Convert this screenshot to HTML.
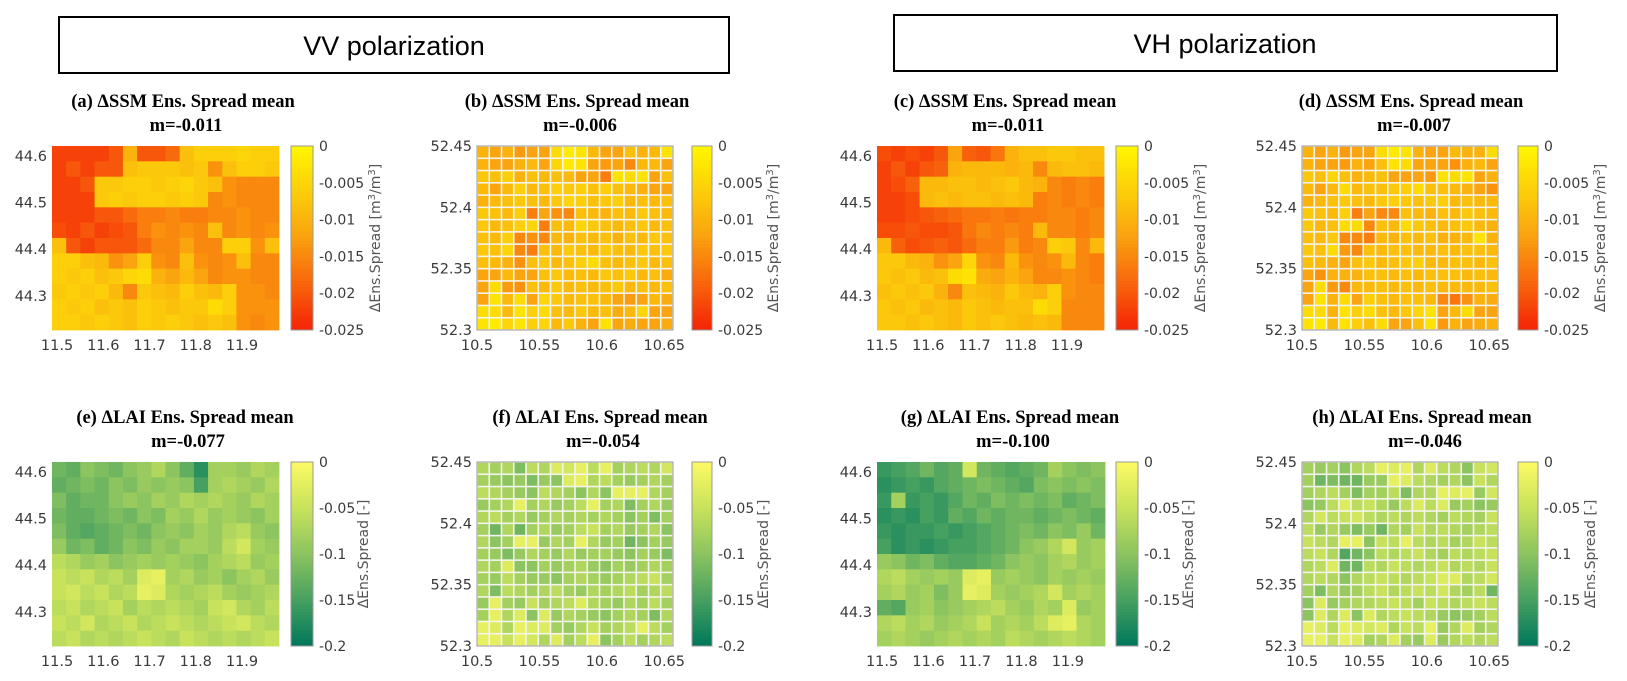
<!DOCTYPE html>
<html><head><meta charset="utf-8"><style>
html,body{margin:0;padding:0;background:#fff}
svg{display:block}
.t{font-family:"Liberation Serif",serif;font-weight:bold;font-size:18.5px;fill:#000}
.k{font-family:"DejaVu Sans","Liberation Sans",sans-serif;font-size:14.5px;fill:#3a3a3a}
.c{font-family:"DejaVu Sans","Liberation Sans",sans-serif;font-size:14px;fill:#3a3a3a}
.l{font-family:"DejaVu Sans","Liberation Sans",sans-serif;font-size:14px;fill:#555}
.h{font-family:"Liberation Sans",sans-serif;font-size:27px;fill:#000}
</style></head><body>
<svg id="fig" width="1627" height="681" xmlns="http://www.w3.org/2000/svg">
<rect x="0" y="0" width="1627" height="681" fill="#fff"/>
<rect x="59" y="17" width="670" height="56" fill="none" stroke="#000" stroke-width="2"/>
<text class="h" x="394" y="55" text-anchor="middle">VV polarization</text>
<rect x="894" y="15" width="663" height="56" fill="none" stroke="#000" stroke-width="2"/>
<text class="h" x="1225" y="53" text-anchor="middle">VH polarization</text>
</svg>
<script>
// ---- data (SSM in 1e-3 m3/m3, LAI in 1e-2) ----
const bigXTicks=[11.5,11.6,11.7,11.8,11.9];
const bigYTicks=[44.6,44.5,44.4,44.3];
const smallXTicks=[10.5,10.55,10.6,10.65];
const smallYTicks=[52.45,52.4,52.35,52.3];
const ssmCbTicks=[0,-0.005,-0.01,-0.015,-0.02,-0.025];
const laiCbTicks=[0,-0.05,-0.1,-0.15,-0.2];
const titles=["(a)  \u0394SSM Ens. Spread mean","(b) \u0394SSM Ens. Spread mean","(c) \u0394SSM Ens. Spread mean","(d) \u0394SSM Ens. Spread mean","(e) \u0394LAI Ens. Spread mean","(f) \u0394LAI Ens. Spread mean","(g) \u0394LAI Ens. Spread mean","(h) \u0394LAI Ens. Spread mean"];
const means=["m=-0.011","m=-0.006","m=-0.011","m=-0.007","m=-0.077","m=-0.054","m=-0.100","m=-0.046"];

const valuesA=[
[-22,-22,-22,-22,-20,-10,-20,-20,-18,-8,-6,-6,-6,-5,-6,-6],
[-22,-20,-22,-20,-20,-8,-7,-7,-7,-8,-7,-14,-8,-6,-6,-7],
[-22,-22,-20,-7,-7,-6,-6,-7,-6,-5,-7,-8,-14,-15,-15,-15],
[-22,-22,-22,-7,-6,-7,-6,-6,-7,-6,-7,-15,-14,-15,-15,-15],
[-22,-22,-22,-20,-20,-18,-16,-16,-15,-16,-16,-15,-15,-14,-15,-15],
[-21,-22,-20,-22,-21,-20,-16,-14,-15,-14,-15,-8,-15,-14,-15,-14],
[-8,-20,-22,-20,-20,-20,-18,-15,-15,-12,-15,-15,-6,-6,-14,-8],
[-6,-6,-8,-9,-14,-12,-6,-14,-15,-8,-14,-15,-14,-8,-15,-15],
[-6,-7,-6,-8,-7,-5,-4,-10,-12,-9,-12,-15,-14,-14,-15,-15],
[-7,-6,-7,-6,-9,-15,-7,-8,-9,-6,-8,-9,-6,-14,-14,-15],
[-6,-7,-6,-8,-7,-8,-6,-7,-8,-7,-7,-4,-6,-14,-14,-14],
[-6,-6,-7,-6,-7,-8,-6,-7,-6,-7,-8,-7,-8,-14,-15,-14]];
const valuesC=[
[-21,-22,-21,-22,-20,-12,-19,-20,-17,-10,-8,-8,-7,-7,-8,-8],
[-22,-20,-22,-20,-19,-10,-9,-9,-9,-10,-9,-15,-9,-8,-8,-9],
[-22,-21,-19,-9,-9,-8,-8,-9,-8,-7,-9,-10,-15,-16,-15,-16],
[-22,-22,-21,-9,-8,-9,-8,-8,-9,-8,-9,-16,-15,-16,-15,-16],
[-22,-22,-21,-20,-19,-18,-17,-17,-16,-17,-16,-16,-15,-15,-16,-15],
[-21,-21,-20,-21,-21,-20,-17,-15,-16,-15,-16,-9,-15,-15,-16,-15],
[-9,-19,-21,-20,-19,-20,-18,-16,-16,-13,-16,-15,-6,-7,-15,-9],
[-7,-7,-9,-10,-14,-12,-5,-14,-15,-9,-14,-15,-14,-9,-15,-16],
[-7,-8,-7,-9,-8,-4,-3,-11,-12,-10,-12,-15,-15,-14,-15,-16],
[-8,-7,-8,-7,-10,-15,-8,-9,-10,-7,-9,-10,-6,-14,-15,-15],
[-7,-8,-7,-9,-8,-9,-7,-8,-9,-8,-8,-4,-6,-15,-15,-15],
[-7,-7,-8,-7,-8,-9,-7,-8,-7,-8,-9,-8,-9,-15,-15,-15]];
const valuesB=[
[-10,-12,-10,-13,-12,-12,-4,-2,-3,-9,-12,-12,-8,-10,-9,-3],
[-10,-12,-12,-10,-9,-12,-5,-2,-3,-12,-13,-12,-15,-9,-9,-12],
[-7,-8,-6,-10,-8,-9,-8,-9,-12,-12,-16,-3,-4,-3,-12,-8],
[-9,-12,-9,-6,-9,-8,-6,-7,-6,-8,-6,-8,-9,-10,-12,-12],
[-10,-9,-8,-7,-8,-9,-7,-5,-6,-8,-7,-6,-9,-8,-9,-8],
[-7,-8,-9,-6,-16,-12,-14,-15,-8,-9,-10,-8,-9,-7,-8,-9],
[-7,-9,-8,-6,-5,-16,-8,-9,-5,-7,-8,-9,-8,-7,-9,-8],
[-8,-9,-6,-15,-14,-15,-9,-10,-8,-9,-8,-10,-8,-9,-7,-8],
[-7,-8,-5,-15,-16,-8,-9,-7,-8,-9,-7,-8,-9,-7,-8,-7],
[-8,-9,-10,-14,-8,-7,-9,-8,-6,-4,-8,-9,-8,-7,-9,-8],
[-12,-12,-9,-12,-12,-8,-7,-9,-8,-9,-7,-8,-7,-9,-8,-11],
[-12,-4,-13,-14,-8,-9,-7,-9,-8,-9,-8,-7,-9,-8,-9,-8],
[-12,-3,-9,-4,-12,-5,-7,-9,-8,-8,-9,-12,-13,-12,-9,-11],
[-4,-4,-9,-3,-6,-4,-8,-9,-7,-9,-8,-11,-9,-5,-12,-12],
[-3,-2,-5,-3,-6,-5,-9,-7,-10,-12,-3,-12,-11,-12,-12,-11]];
const valuesD=[
[-10,-12,-10,-13,-12,-12,-4,-2,-3,-10,-12,-12,-9,-10,-10,-4],
[-10,-12,-12,-13,-10,-12,-8,-3,-4,-12,-12,-12,-14,-10,-9,-12],
[-7,-8,-5,-8,-10,-9,-8,-12,-12,-12,-13,-3,-4,-3,-12,-10],
[-9,-12,-9,-4,-9,-8,-8,-7,-6,-4,-8,-8,-9,-10,-12,-14],
[-10,-9,-8,-7,-8,-9,-7,-6,-7,-8,-7,-6,-9,-8,-9,-9],
[-7,-8,-9,-6,-16,-12,-15,-15,-8,-9,-10,-8,-9,-7,-8,-9],
[-7,-9,-8,-4,-4,-15,-8,-9,-4,-7,-8,-9,-8,-7,-9,-10],
[-8,-9,-7,-15,-15,-16,-9,-10,-8,-9,-8,-10,-10,-9,-3,-10],
[-7,-8,-4,-13,-15,-8,-9,-8,-8,-9,-9,-8,-9,-8,-8,-9],
[-8,-9,-10,-12,-8,-7,-9,-8,-7,-6,-9,-9,-8,-8,-9,-8],
[-12,-14,-10,-10,-10,-8,-8,-9,-8,-9,-8,-8,-8,-9,-8,-9],
[-12,-4,-13,-15,-9,-9,-8,-9,-8,-9,-8,-9,-9,-9,-9,-8],
[-12,-3,-10,-4,-12,-6,-8,-9,-8,-8,-9,-15,-17,-14,-10,-11],
[-4,-4,-10,-3,-6,-4,-8,-9,-7,-5,-3,-12,-9,-4,-12,-12],
[-3,-2,-9,-3,-6,-8,-4,-12,-12,-8,-3,-13,-10,-12,-11,-10]];
const valuesE=[
[-12,-13,-10,-11,-12,-10,-9,-7,-10,-13,-17,-8,-8,-9,-7,-8],
[-13,-12,-11,-12,-10,-11,-9,-10,-9,-10,-15,-8,-7,-8,-9,-7],
[-11,-13,-12,-12,-10,-9,-10,-8,-9,-7,-8,-7,-8,-9,-7,-8],
[-12,-13,-13,-12,-11,-12,-10,-11,-8,-9,-7,-9,-8,-9,-10,-8],
[-11,-13,-14,-13,-12,-11,-12,-10,-9,-10,-8,-9,-7,-6,-9,-10],
[-9,-12,-11,-13,-12,-10,-11,-9,-10,-8,-8,-9,-6,-4,-8,-9],
[-6,-7,-9,-8,-10,-9,-8,-9,-8,-9,-10,-8,-7,-6,-9,-8],
[-5,-6,-5,-7,-6,-8,-3,-2,-8,-7,-9,-8,-10,-8,-7,-9],
[-5,-4,-6,-5,-7,-6,-2,-3,-7,-8,-7,-6,-8,-9,-8,-7],
[-6,-5,-7,-6,-5,-8,-6,-7,-6,-7,-8,-5,-4,-7,-8,-6],
[-5,-6,-4,-7,-6,-5,-7,-6,-5,-6,-7,-6,-5,-4,-6,-7],
[-6,-5,-7,-6,-7,-6,-5,-6,-7,-5,-6,-7,-6,-7,-6,-5]];
const valuesG=[
[-16,-15,-14,-12,-14,-13,-4,-12,-13,-14,-13,-12,-8,-10,-11,-10],
[-17,-16,-15,-16,-14,-13,-12,-11,-12,-13,-14,-11,-10,-11,-10,-11],
[-16,-8,-16,-15,-16,-14,-12,-13,-11,-12,-11,-12,-11,-13,-12,-11],
[-17,-16,-17,-15,-16,-13,-14,-12,-13,-12,-12,-13,-12,-11,-12,-13],
[-16,-17,-16,-16,-15,-16,-15,-14,-13,-12,-11,-12,-10,-11,-9,-12],
[-15,-17,-16,-17,-16,-15,-15,-14,-13,-12,-10,-9,-7,-4,-9,-8],
[-9,-10,-12,-11,-13,-14,-14,-13,-12,-10,-9,-10,-8,-7,-9,-8],
[-7,-6,-8,-9,-8,-9,-3,-2,-9,-8,-9,-10,-8,-9,-8,-9],
[-8,-7,-9,-8,-11,-9,-2,-3,-8,-9,-8,-7,-4,-8,-7,-8],
[-13,-14,-9,-8,-10,-9,-8,-7,-6,-8,-9,-7,-8,-3,-9,-8],
[-7,-6,-8,-7,-9,-8,-7,-5,-8,-7,-8,-6,-3,-2,-7,-8],
[-8,-7,-8,-9,-8,-7,-8,-7,-8,-6,-7,-8,-7,-6,-7,-8]];
const valuesF=[
[-7,-8,-7,-11,-6,-7,-3,-4,-2,-6,-2,-8,-7,-6,-7,-4],
[-8,-9,-10,-9,-11,-9,-10,-3,-2,-7,-6,-8,-9,-8,-7,-8],
[-6,-7,-8,-9,-10,-6,-7,-8,-10,-7,-10,-2,-2,-2,-7,-8],
[-9,-8,-7,-2,-8,-7,-9,-8,-6,-2,-8,-7,-11,-8,-7,-9],
[-7,-6,-8,-7,-9,-8,-7,-8,-7,-8,-7,-8,-10,-8,-11,-8],
[-8,-12,-7,-12,-8,-7,-9,-8,-6,-5,-8,-7,-9,-8,-7,-10],
[-7,-10,-8,-2,-2,-9,-7,-8,-2,-7,-9,-8,-12,-10,-8,-9],
[-8,-9,-11,-9,-7,-8,-9,-7,-9,-8,-8,-9,-10,-8,-9,-11],
[-7,-8,-3,-10,-10,-8,-9,-8,-7,-9,-10,-8,-9,-8,-7,-8],
[-8,-9,-6,-8,-9,-9,-10,-8,-7,-8,-9,-8,-7,-6,-5,-8],
[-7,-11,-6,-7,-8,-7,-6,-8,-9,-7,-8,-7,-6,-8,-7,-6],
[-9,-2,-8,-9,-5,-8,-7,-6,-3,-7,-8,-9,-7,-8,-6,-8],
[-8,-2,-7,-3,-10,-3,-9,-7,-8,-9,-10,-8,-7,-8,-11,-7],
[-2,-3,-7,-2,-3,-3,-8,-9,-7,-5,-8,-7,-6,-2,-6,-8],
[-2,-2,-5,-2,-4,-7,-3,-8,-6,-2,-10,-8,-6,-8,-7,-6]];
const valuesH=[
[-8,-9,-8,-10,-7,-6,-2,-3,-2,-7,-3,-6,-7,-10,-5,-4],
[-8,-12,-11,-12,-12,-9,-9,-2,-3,-6,-7,-8,-7,-10,-5,-7],
[-8,-7,-6,-8,-11,-8,-8,-6,-11,-7,-7,-2,-3,-2,-9,-4],
[-10,-9,-6,-3,-6,-5,-7,-9,-6,-3,-6,-3,-9,-8,-10,-9],
[-7,-4,-6,-5,-4,-6,-7,-6,-7,-6,-7,-8,-6,-7,-8,-5],
[-6,-9,-7,-9,-11,-9,-12,-7,-8,-5,-7,-6,-7,-8,-7,-6],
[-5,-6,-7,-2,-2,-10,-5,-6,-2,-6,-7,-6,-8,-7,-5,-6],
[-6,-5,-7,-14,-12,-10,-6,-7,-6,-5,-7,-8,-6,-7,-6,-5],
[-7,-6,-3,-12,-12,-6,-7,-5,-6,-7,-6,-5,-7,-6,-7,-5],
[-7,-6,-7,-10,-7,-6,-5,-6,-7,-6,-5,-3,-3,-7,-6,-4],
[-8,-11,-7,-9,-8,-6,-5,-7,-6,-5,-6,-4,-7,-8,-6,-12],
[-10,-3,-9,-8,-7,-7,-6,-5,-6,-8,-5,-6,-7,-6,-5,-6],
[-10,-3,-7,-3,-10,-3,-7,-6,-5,-6,-7,-9,-10,-9,-8,-6],
[-2,-3,-6,-2,-3,-4,-3,-7,-5,-6,-2,-9,-7,-3,-8,-7],
[-2,-2,-5,-2,-3,-8,-7,-3,-8,-9,-3,-9,-7,-6,-7,-6]];

// ---- rendering ----
const NS="http://www.w3.org/2000/svg";
const svg=document.getElementById('fig');
function mk(tag,attrs,parent){const e=document.createElementNS(NS,tag);for(const k in attrs)e.setAttribute(k,attrs[k]);(parent||svg).appendChild(e);return e;}
function lerp(a,b,t){return a.map((v,i)=>Math.round(v+(b[i]-v)*t));}
function cmap(stops,t){t=Math.max(0,Math.min(1,t));const n=stops.length-1;const i=Math.min(n-1,Math.floor(t*n));const c=lerp(stops[i],stops[i+1],t*n-i);return `rgb(${c[0]},${c[1]},${c[2]})`;}
const ssmStops=[[255,247,0],[252,205,10],[250,160,15],[248,100,12],[245,35,5]];
const laiStops=[[252,250,100],[200,226,92],[140,196,96],[70,160,96],[0,120,92]];

const panels=[
 {id:'a',vals:valuesA,scale:0.001,vmin:-0.025,x0:52,x1:279,y0:146,y1:330,cb:291,cbw:22,lbx:380,big:true,tx:183,var:'ssm'},
 {id:'b',vals:valuesB,scale:0.001,vmin:-0.025,x0:477,x1:673,y0:146,y1:330,cb:692,cbw:20,lbx:778,big:false,tx:577,var:'ssm'},
 {id:'c',vals:valuesC,scale:0.001,vmin:-0.025,x0:877,x1:1104,y0:146,y1:330,cb:1116,cbw:22,lbx:1205,big:true,tx:1005,var:'ssm'},
 {id:'d',vals:valuesD,scale:0.001,vmin:-0.025,x0:1302,x1:1498,y0:146,y1:330,cb:1518,cbw:20,lbx:1605,big:false,tx:1411,var:'ssm'},
 {id:'e',vals:valuesE,scale:0.01,vmin:-0.2,x0:52,x1:279,y0:462,y1:646,cb:291,cbw:22,lbx:368,big:true,tx:185,var:'lai'},
 {id:'f',vals:valuesF,scale:0.01,vmin:-0.2,x0:477,x1:673,y0:462,y1:646,cb:692,cbw:20,lbx:768,big:false,tx:600,var:'lai'},
 {id:'g',vals:valuesG,scale:0.01,vmin:-0.2,x0:877,x1:1105,y0:462,y1:646,cb:1116,cbw:22,lbx:1193,big:true,tx:1010,var:'lai'},
 {id:'h',vals:valuesH,scale:0.01,vmin:-0.2,x0:1302,x1:1498,y0:462,y1:646,cb:1518,cbw:20,lbx:1595,big:false,tx:1422,var:'lai'}];

panels.forEach((p,pi)=>{
 const g=mk('g',{});
 
 
 const stops=p.var==='ssm'?ssmStops:laiStops;
 const xd=p.big?[11.489,11.980]:[10.5,10.657];
 const yd=p.big?[44.621,44.227]:[52.45,52.30];
 const xs=v=>p.x0+(v-xd[0])/(xd[1]-xd[0])*(p.x1-p.x0);
 const ys=v=>p.y0+(v-yd[0])/(yd[1]-yd[0])*(p.y1-p.y0);
 const t1=mk('text',{class:'t',x:p.tx,y:p.y0-39,'text-anchor':'middle'},g);t1.textContent=titles[pi];
 
 
 const t2=mk('text',{class:'t',x:p.tx+3,y:p.y0-15,'text-anchor':'middle'},g);t2.textContent=means[pi];
 
 
 const rows=p.vals.length,cols=p.vals[0].length;
 const xc=c=>xd[0]+(xd[1]-xd[0])*c/cols; const yc=r=>yd[0]+(yd[1]-yd[0])*r/rows;
 const hm=mk('g',{},g);
 
 
 mk('rect',{x:p.x0,y:p.y0,width:p.x1-p.x0,height:p.y1-p.y0,fill:'#f4f4ee'},hm);
 const gap=p.big?0:0.8;
 for(let r=0;r<rows;r++)for(let c=0;c<cols;c++){
  const v=p.vals[r][c]*p.scale;
  const X0=xs(xc(c)),X1=xs(xc(c+1)),Y0=ys(yc(r)),Y1=ys(yc(r+1));
  const cell=mk('rect',{x:(X0+gap).toFixed(2),y:(Y0+gap).toFixed(2),width:(X1-X0-2*gap+(p.big?0.4:0)).toFixed(2),height:(Y1-Y0-2*gap+(p.big?0.4:0)).toFixed(2),fill:cmap(stops,v/p.vmin)},hm);
  
  
 }
 if(!p.big){const b=mk('rect',{x:p.x0,y:p.y0,width:p.x1-p.x0,height:p.y1-p.y0,fill:'none',stroke:'#999','stroke-width':1},g);
  
  }
 const xt=p.big?bigXTicks:smallXTicks, yt=p.big?bigYTicks:smallYTicks;
 xt.forEach(v=>{const t=mk('text',{class:'k',x:xs(v),y:p.y1+20,'text-anchor':'middle'},g);t.textContent=String(v);
  
  });
 yt.forEach(v=>{const t=mk('text',{class:'k',x:p.x0-5,y:ys(v)+5,'text-anchor':'end'},g);t.textContent=String(v);
  
  });
 const cbg=mk('g',{},g);
 
 
 const N=60,h=(p.y1-p.y0)/N;
 for(let i=0;i<N;i++){mk('rect',{x:p.cb,y:(p.y0+i*h).toFixed(2),width:p.cbw,height:(h+0.5).toFixed(2),fill:cmap(stops,(i+0.5)/N)},cbg);}
 mk('rect',{x:p.cb,y:p.y0,width:p.cbw,height:p.y1-p.y0,fill:'none',stroke:'#999','stroke-width':1},cbg);
 const cbt=p.var==='ssm'?ssmCbTicks:laiCbTicks;
 cbt.forEach(v=>{const y=p.y0+(v/p.vmin)*(p.y1-p.y0);const t=mk('text',{class:'c',x:p.cb+p.cbw+6,y:y+5},cbg);t.textContent=String(v);
  
  });
 const cy=(p.y0+p.y1)/2;
 const lb=mk('text',{class:'l',x:p.lbx,y:cy,'text-anchor':'middle',transform:`rotate(-90 ${p.lbx} ${cy})`},cbg);
 if(p.var==='ssm'){lb.innerHTML='\u0394Ens.Spread [m<tspan dy="-5" font-size="10">3</tspan><tspan dy="5">/m</tspan><tspan dy="-5" font-size="10">3</tspan><tspan dy="5">]</tspan>';}
 else lb.textContent='\u0394Ens.Spread [-]';
 
 
});
</script>
</body></html>
